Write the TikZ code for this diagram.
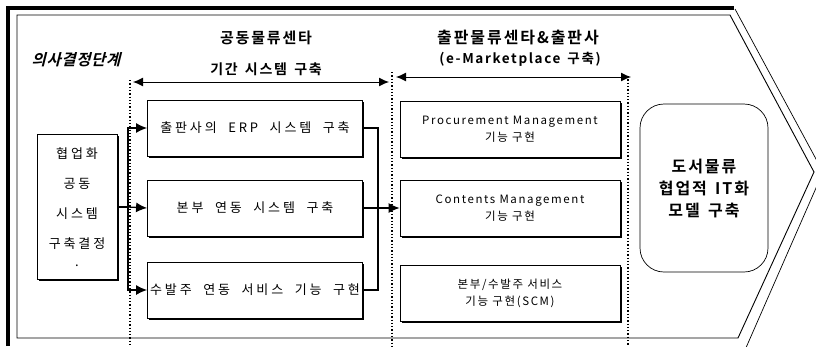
\documentclass[tikz,border=0pt]{standalone}
\usepackage{fontspec}
\setmainfont{Noto Sans CJK KR}
\newfontfamily\krwide{Noto Sans CJK KR}[LetterSpace=22,WordSpace=2]
\newfontfamily\krmid{Noto Sans CJK KR}[LetterSpace=14]
\newfontfamily\krbold{Noto Sans CJK KR Bold}[LetterSpace=12,WordSpace=1.5]
\newfontfamily\krslant{Noto Sans CJK KR Bold}[FakeSlant=0.25,LetterSpace=4]
\usetikzlibrary{arrows.meta}
\usetikzlibrary{shadows}
\tikzset{
  shadowbox/.style={draw,fill=white,line width=0.8pt,align=center,
    drop shadow={shadow xshift=1.6pt,shadow yshift=-1.6pt,opacity=1,fill=black}},
  sysbox/.style={shadowbox,minimum width=215pt,minimum height=56pt,font=\krwide\fontsize{13}{16}\selectfont},
  funcbox/.style={shadowbox,minimum width=220pt,minimum height=56pt,font=\krmid\fontsize{11.5}{17}\selectfont},
  link/.style={line width=1.3pt},
  headarrow/.style={line width=1pt,{Latex[length=10pt,width=9pt]}-{Latex[length=10pt,width=9pt]}},
  sepline/.style={dotted,line width=1.3pt}
}

\begin{document}
\begin{tikzpicture}[x=1pt,y=-1pt]
\useasboundingbox (0,0) rectangle (816,346);
\draw[line width=4pt] (8,346) -- (8,8) -- (734,8);
\draw[line width=0.7pt] (735,9) -- (823,172) -- (745,350);
\draw[line width=0.9pt] (17,15) -- (730,15) -- (814,172) -- (738,338) -- (17,338) -- cycle;

\draw[sepline] (130,80) -- (130,346);
\draw[sepline] (392,72) -- (392,346);
\draw[sepline] (628,76) -- (628,346);

\node at (76,60) {\krslant\fontsize{15.5}{16}\selectfont 의사결정단계};
\node at (266,38) {\krbold\fontsize{15}{16}\selectfont 공동물류센타};
\node at (266,69) {\krbold\fontsize{14}{16}\selectfont 기간 시스템 구축};
\node at (518,38) {\krbold\fontsize{16}{16}\selectfont 출판물류센타\&출판사};
\node at (520,59) {\krbold\fontsize{13.5}{16}\selectfont (e-Marketplace 구축)};
\coordinate (h1l) at (133,82);
\coordinate (h1r) at (389,82);
\coordinate (h2l) at (396,77);
\coordinate (h2r) at (631,77);
\draw[headarrow] (h1l) -- (h1r);
\draw[headarrow] (h2l) -- (h2r);

\node[shadowbox,minimum width=80pt,minimum height=145pt,font=\krwide\fontsize{13}{30}\selectfont] (decide) at (77,207)
  {협업화\\공동\\시스템\\구축결정\\[-12pt].};

\node[sysbox] (erp) at (255,128) {출판사의 ERP 시스템 구축};
\node[sysbox] (hq) at (255,208) {본부 연동 시스템 구축};
\node[sysbox,inner xsep=0pt] (order) at (255,290) {수발주 연동 서비스 기능 구현};

\node[funcbox] (proc) at (510,129) {Procurement Management\\기능 구현};
\node[funcbox] (cont) at (510,208) {Contents Management\\기능 구현};
\node[funcbox] (scm) at (510,293) {본부/수발주 서비스\\기능 구현(SCM)};

\node[draw,line width=0.7pt,rounded corners=24pt,minimum width=128pt,minimum height=168pt,align=center,
  font=\krbold\fontsize{16}{22}\selectfont] (model) at (704,188) {도서물류\\협업적 IT화\\모델 구축};

\coordinate (lsplit) at (128,207);
\coordinate (rjoin) at (378,208);
\draw[link] (decide.east) -- (lsplit);
\draw[link,-{Latex[length=11pt,width=10pt]}] (lsplit) |- (erp.west);
\draw[link,-{Latex[length=11pt,width=10pt]}] (lsplit) -- (hq.west);
\draw[link,-{Latex[length=11pt,width=10pt]}] (lsplit) |- (order.west);
\draw[link] (erp.east) -| (rjoin);
\draw[link] (order.east) -| (rjoin);
\draw[link,-{Latex[length=11pt,width=10pt]}] (hq.east) -- (cont.west);
\end{tikzpicture}
\end{document}
